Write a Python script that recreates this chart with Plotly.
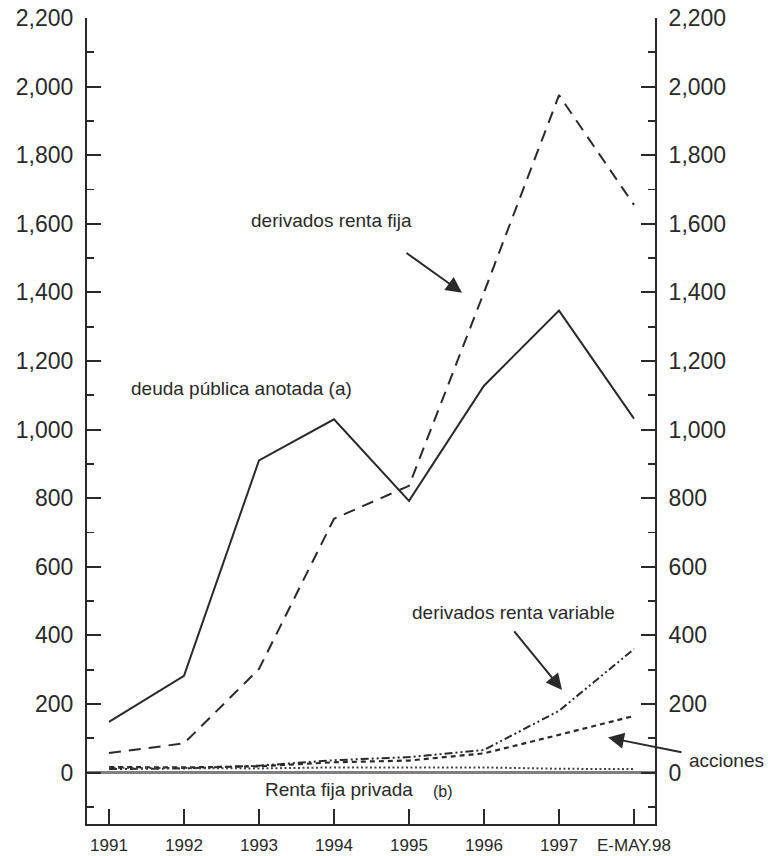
import plotly.graph_objects as go

years = ["1991", "1992", "1993", "1994", "1995", "1996", "1997", "E-MAY.98"]
deuda_publica = [148, 282, 910, 1030, 792, 1128, 1347, 1032]
derivados_renta_fija = [57, 85, 302, 740, 836, 1400, 1975, 1655]
derivados_renta_variable = [10, 12, 20, 36, 45, 66, 180, 360]
acciones = [16, 15, 18, 30, 35, 56, 110, 165]
renta_fija_privada = [14, 13, 12, 15, 14, 15, 11, 10]
y_ticks = [0, 200, 400, 600, 800, 1000, 1200, 1400, 1600, 1800, 2000, 2200]

x = list(range(len(years)))
ink = "#2a2a2a"
font = "Liberation Sans, Arial, sans-serif"

fig = go.Figure()
fig.add_trace(go.Scatter(x=x, y=deuda_publica, mode="lines",
                         line=dict(color=ink, width=2)))
fig.add_trace(go.Scatter(x=x, y=derivados_renta_fija, mode="lines",
                         line=dict(color=ink, width=2, dash="12px,8px")))
fig.add_trace(go.Scatter(x=x, y=derivados_renta_variable, mode="lines",
                         line=dict(color=ink, width=2, dash="8px,3px,2px,3px,2px,3px")))
fig.add_trace(go.Scatter(x=x, y=acciones, mode="lines",
                         line=dict(color=ink, width=2.2, dash="5px,4px")))
fig.add_trace(go.Scatter(x=x, y=renta_fija_privada, mode="lines",
                         line=dict(color="#444", width=2, dash="2px,2.5px")))
# invisible trace to activate the right-hand axis
fig.add_trace(go.Scatter(x=[x[0]], y=[0], yaxis="y2", mode="lines",
                         line=dict(color="rgba(0,0,0,0)"), hoverinfo="skip"))

tick_text = [f"{v:,}" for v in y_ticks]
yaxis_common = dict(range=[-150, 2200], tickvals=y_ticks, ticktext=tick_text,
                    ticks="inside", ticklen=14, tickwidth=2, tickcolor=ink,
                    showline=True, linecolor=ink, linewidth=2, showgrid=False,
                    automargin=False, ticklabelstandoff=7,
                    ticklabeloverflow="allow",
                    tickfont=dict(family=font, size=23, color=ink),
                    minor=dict(dtick=100, tick0=0, ticks="inside", ticklen=7,
                               tickwidth=1.8, tickcolor=ink, showgrid=False))

fig.update_layout(
    width=768, height=856,
    margin=dict(l=87, r=113, t=18, b=32),
    paper_bgcolor="white", plot_bgcolor="white",
    showlegend=False,
    xaxis=dict(range=[-0.293, 7.28], tickvals=x, ticktext=years,
               ticks="inside", ticklen=15, tickwidth=2, tickcolor=ink,
               showline=True, linecolor=ink, linewidth=2, showgrid=False,
               zeroline=False, automargin=False, ticklabelstandoff=5,
               ticklabeloverflow="allow",
               tickfont=dict(family=font, size=17, color=ink)),
    yaxis=dict(**yaxis_common, zeroline=True, zerolinecolor="#808080",
               zerolinewidth=2.5),
    yaxis2=dict(**yaxis_common, overlaying="y", side="right", zeroline=False),
)

text_font = dict(family=font, size=19, color=ink)
fig.add_annotation(x=2.973, y=1611, text="derivados renta fija", showarrow=False,
                   font=text_font)
fig.add_annotation(x=1.773, y=1119, text="deuda pública anotada (a)", showarrow=False,
                   font=text_font)
fig.add_annotation(x=5.40, y=468, text="derivados renta variable", showarrow=False,
                   font=text_font)
fig.add_annotation(x=1.125, y=0.0794, xref="paper", yref="paper", text="acciones",
                   xanchor="center", yanchor="middle",
                   showarrow=False, font=text_font)
fig.add_annotation(x=3.067, y=-50, text="Renta fija privada", showarrow=False,
                   font=text_font)
fig.add_annotation(x=4.453, y=-56, text="(b)", showarrow=False,
                   font=dict(family=font, size=16, color=ink))

for (hx, hy, tx, ty) in [(4.707, 1399, 3.947, 1518),
                         (6.04, 241, 5.387, 416)]:
    fig.add_annotation(x=hx, y=hy, ax=tx, ay=ty, xref="x", yref="y",
                       axref="x", ayref="y", text="", showarrow=True,
                       arrowhead=2, arrowsize=1.6, arrowwidth=2,
                       arrowcolor=ink)
fig.add_annotation(x=6.653, y=102, ax=75, ay=15, xref="x", yref="y",
                   text="", showarrow=True, arrowhead=2, arrowsize=1.6,
                   arrowwidth=2, arrowcolor=ink)

fig.write_html(
    "out.html",
    config={"displayModeBar": False, "staticPlot": True},
    post_script="document.body.style.margin='0';document.body.style.overflow='hidden';",
)
